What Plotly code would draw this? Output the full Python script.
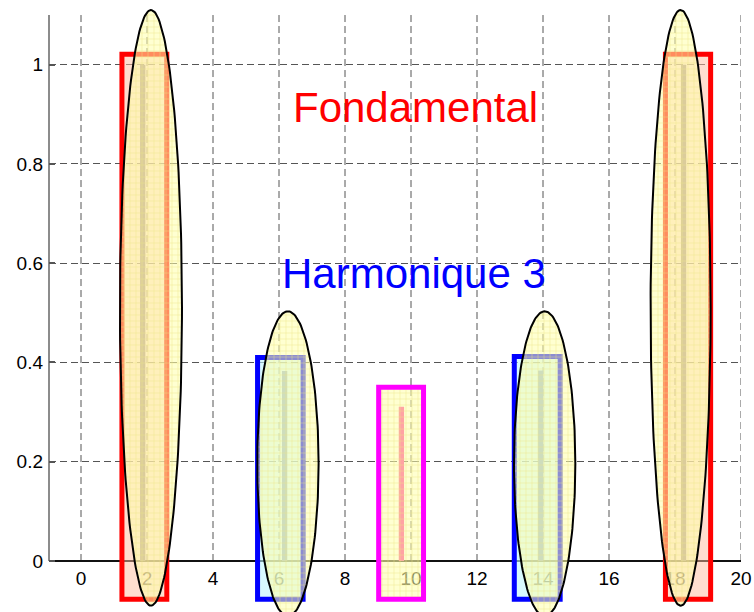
import numpy as np
import plotly.graph_objects as go

# ---------------- data ----------------
tick_x = [0, 2, 4, 6, 8, 10, 12, 14, 16, 18, 20]
tick_y = [0, 0.2, 0.4, 0.6, 0.8, 1.0]
tick_y_text = ["0", "0.2", "0.4", "0.6", "0.8", "1"]

freqs = [1.87, 6.17, 9.71, 13.93, 18.26]
amps = [1.0, 0.383, 0.311, 0.384, 1.0]

# highlight rectangles (data units)
rect_x0 = [1.24, 5.35, 9.02, 13.13, 17.71]
rect_x1 = [2.60, 6.73, 10.38, 14.52, 19.08]
rect_top = [1.021, 0.410, 0.350, 0.412, 1.021]
rect_bottom = -0.077
rect_colors = ["#ff0000", "#0000ff", "#ff00ff", "#0000ff", "#ff0000"]

# highlight ellipses (data units)
ell_cx = [2.12, 6.27, 14.05, 18.17]
ell_cy = [0.510, 0.196, 0.196, 0.510]
ell_a = [0.94, 0.93, 0.93, 0.91]
ell_b = [0.600, 0.307, 0.307, 0.600]

labels = ["Fondamental", "Harmonique 3"]
label_x = [10.15, 10.10]
label_y = [0.914, 0.579]
label_colors = ["#ff0000", "#0000ff"]

# ---------------- figure ----------------
X_RANGE = [-0.97, 20]
Y_RANGE = [-0.1027, 1.1302]
Y_TOP = 1.1
FONT = "Liberation Sans, Arial, sans-serif"

def ypaper(v):
    return (v - Y_RANGE[0]) / (Y_RANGE[1] - Y_RANGE[0])

fig = go.Figure()

bar_colors = ["#606070", "#505090", "#ff3399", "#505090", "#606070"]
fig.add_trace(go.Bar(x=freqs, y=amps, width=0.16,
                     marker=dict(color=bar_colors, line=dict(width=0)),
                     hoverinfo="skip"))

yellow_pattern = dict(shape="+", size=6, solidity=0.18,
                      fgcolor="rgb(238,228,130)", fgopacity=0.75,
                      bgcolor="rgba(255,255,170,0.55)", fillmode="replace")

rect_fill = {"#ff0000": "rgba(255,190,160,0.5)",
             "#0000ff": "rgba(190,245,255,0.6)"}

for x0, x1, top, col in zip(rect_x0, rect_x1, rect_top, rect_colors):
    mid = (top + rect_bottom) / 2
    kw = dict(x=[x0, x0, x1, x1, x0, x0],
              y=[mid, top, top, rect_bottom, rect_bottom, mid],
              mode="lines", fill="toself",
              line=dict(color=col, width=5),
              hoverinfo="skip")
    if col == "#ff00ff":
        kw["fillcolor"] = "rgba(0,0,0,0)"
        kw["fillpattern"] = yellow_pattern
    else:
        kw["fillcolor"] = rect_fill[col]
    fig.add_trace(go.Scatter(**kw))

t = np.linspace(0, 2 * np.pi, 200)
for cx, cy, a, b in zip(ell_cx, ell_cy, ell_a, ell_b):
    fig.add_trace(go.Scatter(x=cx + a * np.cos(t), y=cy + b * np.sin(t),
                             mode="lines", fill="toself",
                             fillcolor="rgba(0,0,0,0)",
                             fillpattern=yellow_pattern,
                             line=dict(color="black", width=2),
                             hoverinfo="skip"))

for txt, x, y, c in zip(labels, label_x, label_y, label_colors):
    fig.add_annotation(x=x, y=y, text=txt, showarrow=False,
                       xanchor="center", yanchor="middle",
                       font=dict(family=FONT, size=42, color=c))

shapes = []
for v in tick_x:
    shapes.append(dict(type="line", xref="x", yref="y", x0=v, x1=v, y0=0, y1=Y_TOP,
                       line=dict(color="#555", width=1, dash="7px,4px"), layer="below"))
shapes.append(dict(type="line", xref="paper", yref="paper", x0=0, x1=0,
                   y0=ypaper(0), y1=ypaper(Y_TOP),
                   line=dict(color="#666", width=1.5), layer="below"))

fig.update_layout(
    width=754, height=612,
    margin=dict(l=49, r=13, t=0, b=0),
    plot_bgcolor="white", paper_bgcolor="white",
    showlegend=False, shapes=shapes,
    font=dict(family=FONT, size=19, color="black"),
    xaxis=dict(range=X_RANGE, tickvals=tick_x, showgrid=False, zeroline=False,
               showline=True, linecolor="#111", linewidth=1.5,
               anchor="free", position=ypaper(0), ticks="",
               layer="below traces", tickfont=dict(size=19)),
    yaxis=dict(range=Y_RANGE, tickvals=tick_y, ticktext=tick_y_text,
               showgrid=True, gridcolor="#555", gridwidth=1, griddash="7px,4px",
               zeroline=False, showline=False, ticks="inside", ticklen=6,
               tickcolor="#555", tickwidth=1.5, layer="below traces",
               ticklabelstandoff=5, tickfont=dict(size=19)),
)

fig.write_html("out.html",
               config={"displayModeBar": False},
               post_script="document.body.style.margin='0';"
                           "document.body.style.overflow='hidden';")
